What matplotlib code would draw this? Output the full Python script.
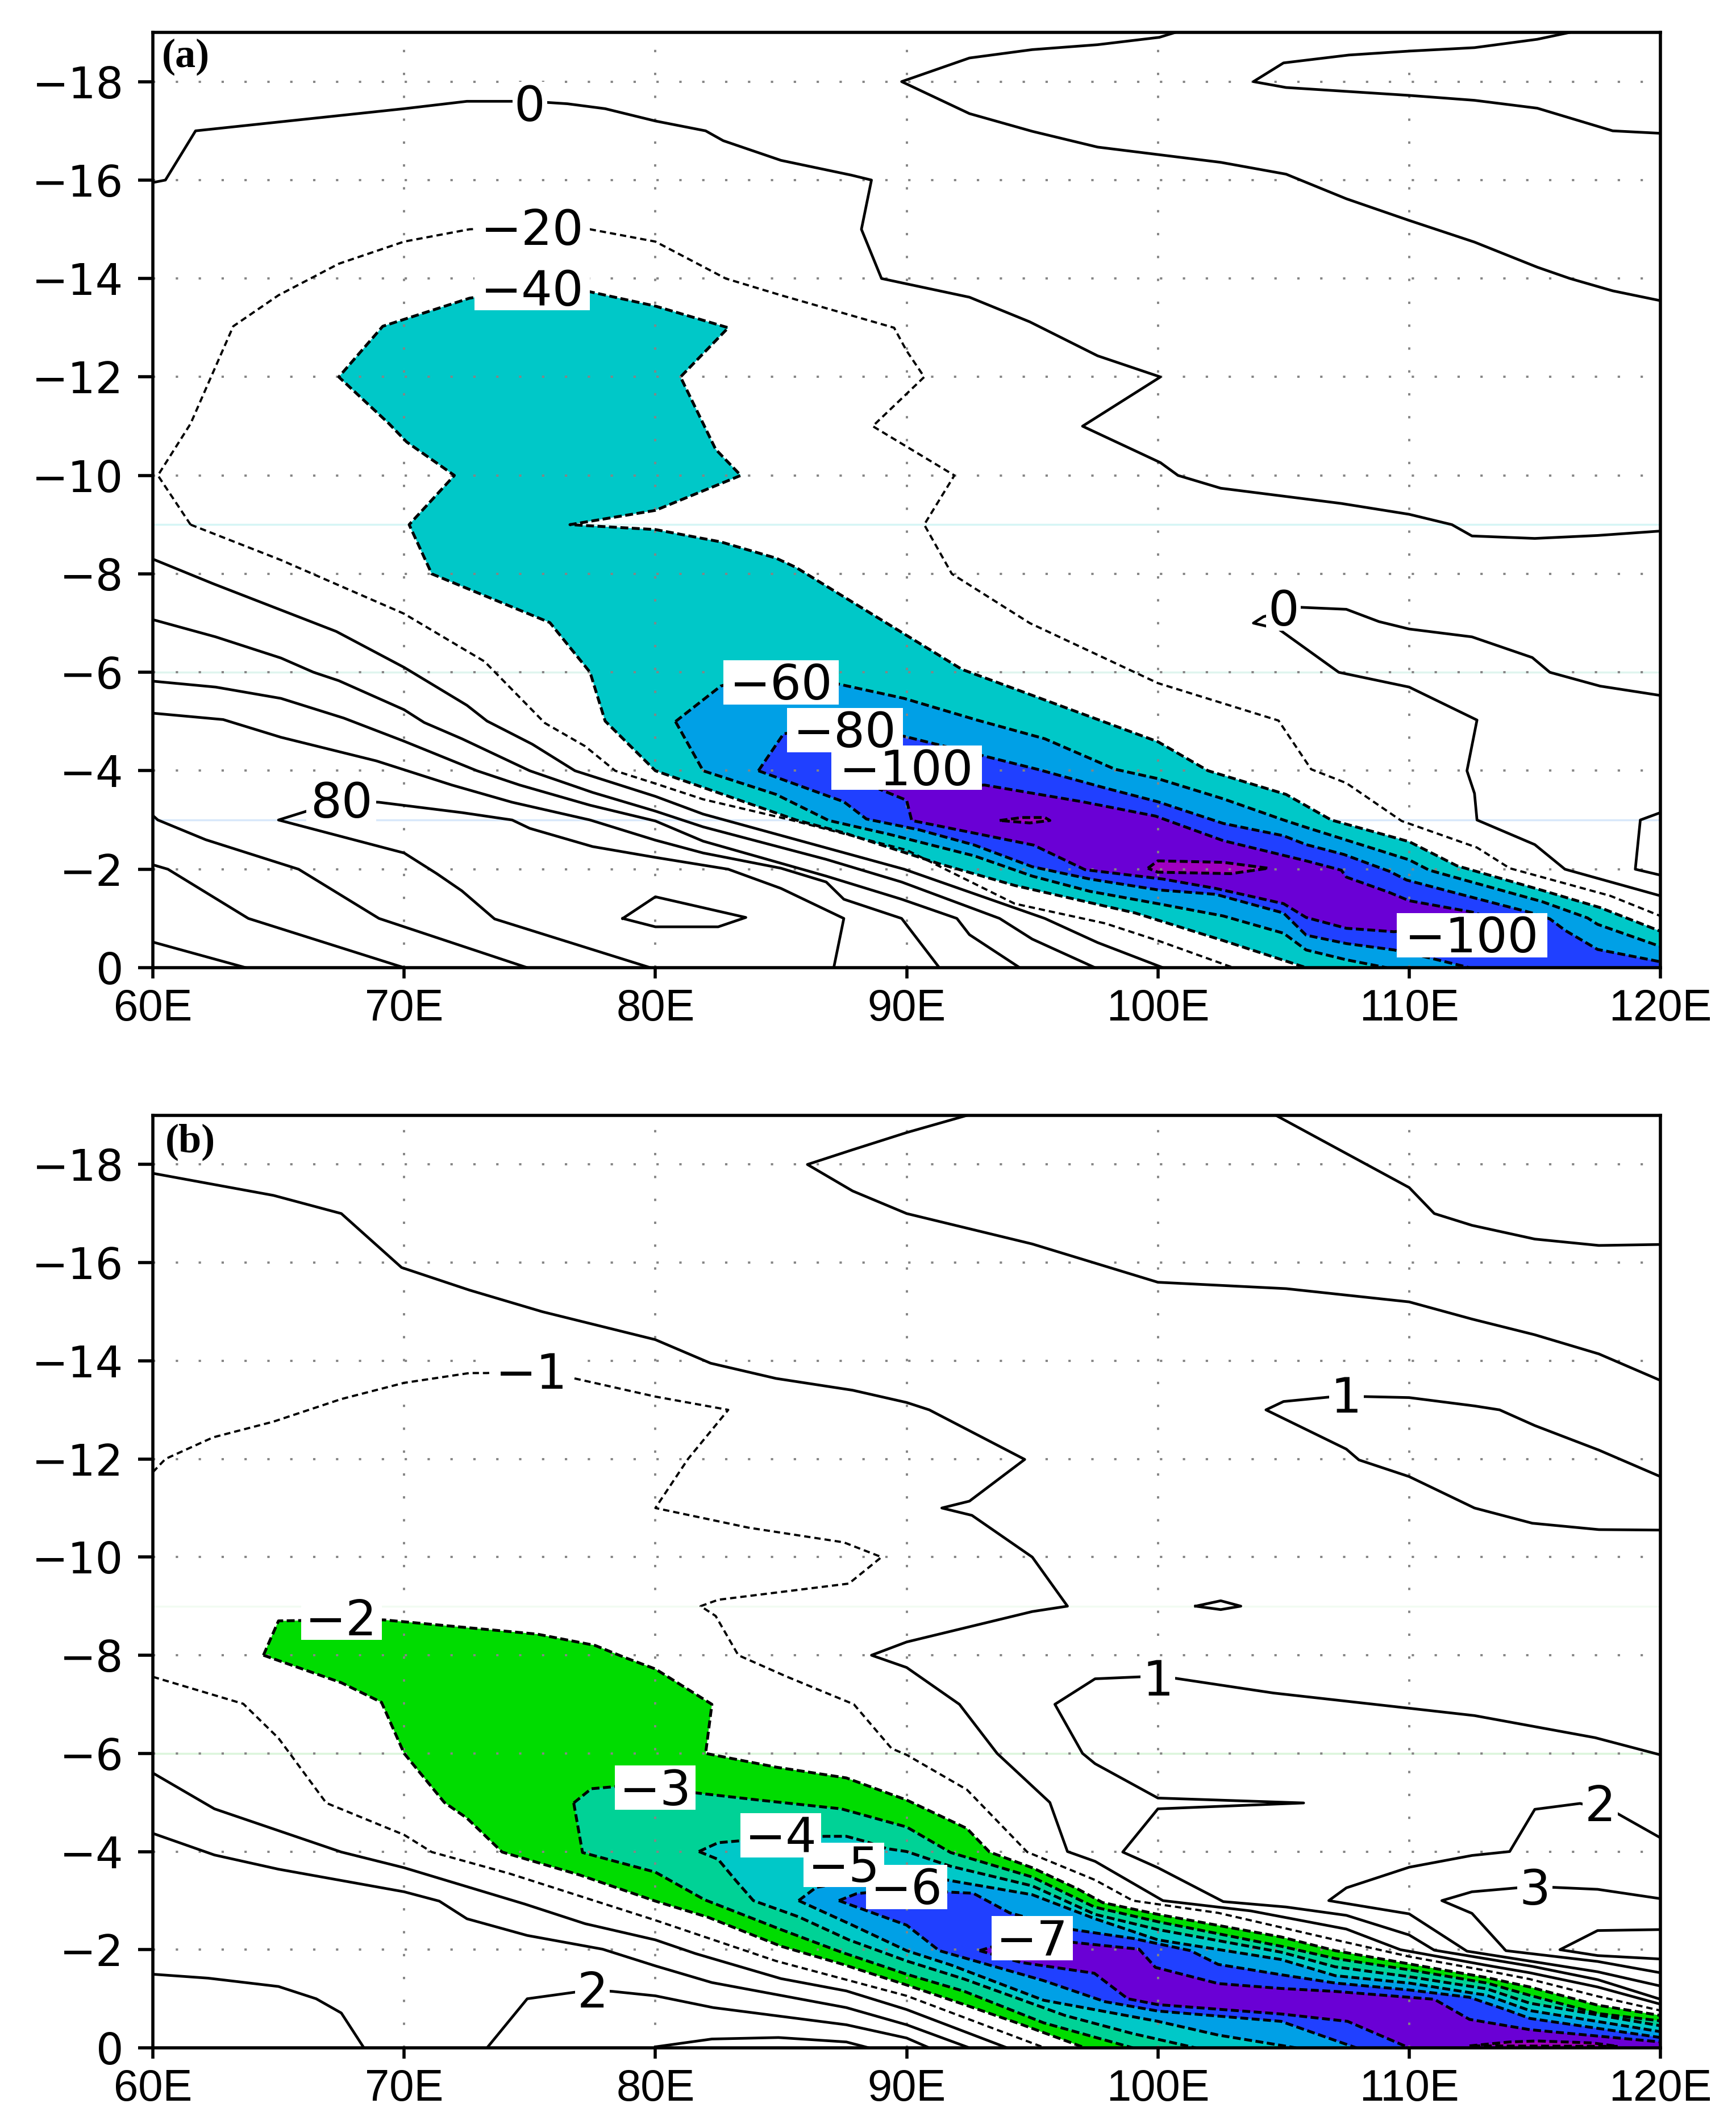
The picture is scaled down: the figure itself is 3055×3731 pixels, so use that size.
import matplotlib
matplotlib.use("Agg")
import matplotlib.pyplot as plt
from matplotlib.patches import Polygon, Rectangle

plt.rcParams['lines.scale_dashes'] = False

lon_ticks = [60, 70, 80, 90, 100, 110, 120]
lon_labels = ['60E', '70E', '80E', '90E', '100E', '110E', '120E']
lat_ticks = [-18, -16, -14, -12, -10, -8, -6, -4, -2, 0]

# colours of the shaded levels, outermost first
a_colors = ['#00C8C8', '#00A0E6', '#2040FF', '#6A00D5', '#A000C0']
b_colors = ['#00DC00', '#00D296', '#00C8C8', '#00A0E6', '#2040FF', '#6A00D5', '#A000C0']

# ---- panel a: contours as (lon, lat) ----
a_m40_left = [(75, -13.8), (72.6, -13.6), (69.15, -13.03), (67.4, -12), (69.4, -11.05), (70.1, -10.68), (72, -10),
              (70.2, -9), (71.1, -8), (75.8, -7.01), (77.4, -6), (78, -5.01), (80, -4), (85.6, -3), (87.5, -2.74),
              (91.3, -2.11), (94.3, -1.67), (96.7, -1.39), (99.1, -1.11), (102.6, -0.55), (105.9, 0)]
a_m40_right = [(75, -13.8), (77.4, -13.73), (80, -13.44), (82.9, -13), (81, -12), (82.4, -10.53), (83.4, -10),
               (80, -9.29), (76.6, -9), (80, -8.9), (82.6, -8.65), (84.8, -8.32), (85.6, -8.13), (92.2, -6.06),
               (100, -4.59), (102, -4), (105.1, -3.52), (106.9, -3), (110, -2.56), (111.9, -2.07), (115.3, -1.57),
               (117.6, -1.22), (120, -0.74)]
a_m60_upper = [(80.8, -5), (82.6, -5.72), (84.5, -6), (87.3, -5.76), (89.9, -5.47), (92.8, -5.03), (95.5, -4.65),
               (98.3, -4.03), (100, -3.84), (102.6, -3.43), (105, -3), (105.9, -2.85), (110, -2.19), (110.8, -1.98),
               (115.3, -1.34), (117.1, -1.01), (117.5, -0.88), (120, -0.43)]
a_m60_lower = [(80.8, -5), (81.9, -4), (84.8, -3.52), (86.9, -2.99), (89.3, -2.71), (92.7, -2.27), (95, -1.86),
               (97.3, -1.55), (100, -1.3), (102.6, -1.05), (105, -0.7), (105.9, -0.36), (107.5, -0.16), (109.1, 0)]
a_m80_upper = [(84.1, -4), (85.1, -4.75), (87, -4.9), (89.9, -4.7), (93, -4.31), (95.2, -4.03), (97.9, -3.65),
               (100, -3.37), (102.6, -2.93), (105, -2.68), (105.9, -2.5), (107.4, -2.3), (109.2, -1.96),
               (109.9, -1.78), (111.6, -1.55), (114.9, -1.11), (115.6, -0.99), (116.2, -0.76), (117.5, -0.37),
               (120, -0.12)]
a_m80_lower = [(84.1, -4), (87.5, -3.37), (88.4, -3.02), (90.5, -2.8), (92.7, -2.49), (95, -2.05), (97.3, -1.8),
               (100, -1.58), (102.3, -1.49), (105, -1.11), (105.9, -0.66), (107.5, -0.49), (109.4, -0.36),
               (110.8, -0.2), (112.4, 0)]
a_m100 = [(88.9, -3.63), (93.1, -3.71), (97, -3.37), (99.9, -3.08), (102.6, -2.58), (105.9, -2.17), (107.3, -1.98),
          (107.5, -1.84), (109.2, -1.53), (110, -1.36), (112.5, -1.13), (113.6, -0.95), (109.4, -0.73),
          (107.5, -0.8), (105.9, -1.02), (105, -1.3), (102.3, -1.61), (100.2, -1.8), (97.1, -1.99), (95.05, -2.49),
          (90.2, -2.99), (90, -3.4), (88.9, -3.63)]
a_m120_small = [(93.7, -2.99), (94.6, -3.05), (95.5, -3.05), (95.7, -2.99), (94.9, -2.94), (93.7, -2.99)]
a_m120_long = [(99.6, -2.02), (100, -2.17), (102.6, -2.14), (104.4, -2.02), (102.9, -1.91), (100, -1.94), (99.6, -2.02)]

a_m20 = [(61.5, -9), (60.2, -10), (61.5, -11.05), (63.2, -13.03), (65, -13.66), (67.4, -14.3), (70, -14.75),
         (72.6, -15), (75, -15.05), (77.4, -15), (80, -14.75), (82.8, -14), (85, -13.66), (87.8, -13.25),
         (89.5, -13), (90, -12.53), (90.7, -12), (88.65, -11), (91.9, -10), (90.7, -9), (91.8, -8), (94.9, -7),
         (100, -5.78), (104.8, -5.02), (106.1, -4.03), (107.5, -3.75), (109.7, -2.98), (112.7, -2.44), (114, -2.02),
         (118, -1.46), (120, -1.05)]
a_m20_low = [(61.5, -9), (65.1, -8.28), (70, -7.19), (73.2, -6.22), (75.6, -4.97), (77.2, -4.5), (78.4, -4),
             (80, -3.74), (81.9, -3.42), (85.4, -3), (90, -2.39), (94.3, -1.3), (97.9, -0.9), (100, -0.55), (103, 0)]

a_zero_main = [(60, -15.95), (60.5, -16), (61.7, -17), (70, -17.45), (72.5, -17.6), (75, -17.6), (76.5, -17.55),
               (78, -17.45), (80, -17.2), (82, -17), (82.7, -16.8), (85, -16.4), (87.8, -16.1), (88.6, -16),
               (88.2, -15), (89, -14), (92.5, -13.62), (94.9, -13.12), (97.6, -12.43), (100.1, -12), (97, -11),
               (100.1, -10.26), (100.8, -10), (102.5, -9.74), (107.3, -9.43), (110, -9.21), (111.7, -9),
               (112.5, -8.77), (115, -8.72), (117.5, -8.78), (120, -8.87)]
a_top_long = [(100.7, -19), (100.06, -18.9), (97.6, -18.75), (95, -18.65), (92.5, -18.48), (89.8, -18), (92.5, -17.35),
              (95, -16.99), (97.6, -16.67), (102.5, -16.36), (105.1, -16.12), (107.5, -15.62), (110, -15.18),
              (112.6, -14.74), (115.1, -14.23), (116.4, -14), (118.1, -13.75), (120, -13.55)]
a_top_right = [(116.4, -19), (115.1, -18.86), (112.6, -18.69), (110, -18.62), (107.6, -18.54), (105, -18.38),
               (103.8, -18), (105.1, -17.88), (110, -17.72), (112.6, -17.62), (115.1, -17.46), (118.1, -17),
               (120, -16.95)]
a_zero_inner = [(120, -5.53), (117.6, -5.72), (115.6, -6), (114.9, -6.3), (112.5, -6.72), (110, -6.88), (108.8, -7.03),
                (107.5, -7.28), (105.7, -7.32), (104.2, -7.13), (103.8, -7), (104.8, -6.88), (107.2, -6), (110, -5.7),
                (112.7, -5.03), (112.3, -4), (112.6, -3.54), (112.7, -3), (115, -2.5), (116.2, -2), (120, -1.46)]
a_right_box = [(120, -3.15), (119.2, -3), (119, -2), (120, -1.88)]
a_line1 = [(60, -8.3), (62.4, -7.8), (67.3, -6.83), (70, -6.1), (72.5, -5.33), (73.3, -5.01), (75.1, -4.54),
           (76.8, -4), (80, -3.48), (81.9, -3.12), (89.9, -2), (95.5, -1), (97.6, -0.51), (100.2, 0)]
a_line2 = [(60, -7.07), (62.5, -6.72), (65.1, -6.29), (66.4, -6), (67.4, -5.83), (70, -5.24), (70.8, -4.98),
           (72.3, -4.65), (75, -4), (77.5, -3.56), (80, -3.18), (81.9, -2.86), (86.8, -2.2), (89.8, -1.74),
           (93.7, -1), (95, -0.58), (97.5, 0)]
a_line3 = [(60, -5.82), (62.5, -5.7), (65.1, -5.47), (67.6, -5.07), (70, -4.6), (72.9, -4), (74.6, -3.71),
           (77.4, -3.3), (80, -2.98), (81.9, -2.57), (86.8, -1.86), (89.8, -1.39), (92, -1), (92.5, -0.67), (94.5, 0)]
a_line4 = [(60, -5.17), (62.8, -5.04), (65.1, -4.68), (68.9, -4.2), (71.9, -3.71), (74.3, -3.36), (77.4, -3),
           (80, -2.59), (81.9, -2.33), (85, -2.02), (86.8, -1.74), (87.5, -1.39), (89.8, -1), (91.3, 0)]
a_line80 = [(79.8, 0), (73.6, -0.99), (72.3, -1.56), (71.3, -1.91), (70, -2.33), (65, -3), (67.5, -3.4), (69, -3.36),
            (72.3, -3.15), (74.3, -3), (75, -2.83), (77.5, -2.46), (80, -2.24), (82.9, -2), (85, -1.61), (87.5, -1),
            (87.1, 0)]
a_line_b1 = [(60, -3.09), (60.2, -3), (62.1, -2.6), (65.8, -2), (69, -1), (74.9, 0)]
a_line_b2 = [(60, -2.09), (60.6, -2), (63.8, -1), (70, 0)]
a_line_b3 = [(60, -0.52), (63.7, 0)]
a_loop = [(78.7, -1), (80, -1.44), (83.6, -1.02), (82.5, -0.83), (80, -0.83), (78.7, -1)]

a_pale_lats = [-9, -6, -3]
a_labels = [('0', 75, -17.55), ('\u221220', 75.1, -15.04), ('\u221240', 75.1, -13.8), ('0', 105, -7.3), ('80', 67.5, -3.4),
            ('\u221260', 85, -5.8), ('\u221280', 87.55, -4.83), ('\u2212100', 90, -4.06), ('\u2212100', 112.5, -0.66)]

# ---- panel b ----
b_m2_upper = [(64.4, -8), (65, -8.7), (67.5, -8.72), (69.2, -8.72), (75.3, -8.43), (77.6, -8.2), (78.8, -7.95), (80, -7.72),
              (82.25, -7), (82, -6), (84.8, -5.72), (87.6, -5.5), (90, -5.05), (92.4, -4.47), (93.3, -3.99), (95, -3.67),
              (96.8, -3.24), (97.8, -2.96), (100, -2.72), (104.9, -2.26), (107.06, -1.98), (110, -1.71), (113.1, -1.43),
              (114.8, -1.24), (117.5, -0.87), (120, -0.66)]
b_m2_lower = [(64.4, -8), (67.5, -7.44), (69.1, -7.04), (70, -6), (71.6, -5), (72.5, -4.68), (73.9, -3.99), (77, -3.52),
              (80, -2.99), (82.1, -2.66), (85, -2.07), (87.4, -1.71), (90, -1.28), (92.3, -0.88), (94.55, -0.48), (97.1, 0)]
b_m3_upper = [(76.75, -4.99), (77.45, -5.28), (79, -5.35), (81.7, -5.19), (84.1, -5.05), (87.4, -4.87), (90, -4.5),
              (91.75, -3.98), (95, -3.48), (97.47, -2.87), (100, -2.57), (104.9, -2.07), (107.06, -1.82), (110, -1.59),
              (113.1, -1.32), (114.8, -1.07), (117.5, -0.7), (120, -0.55)]
b_m3_lower = [(76.75, -4.99), (77.1, -3.98), (80, -3.58), (81.95, -3.02), (85, -2.41), (87.4, -1.95), (90, -1.5),
              (92.3, -1.15), (95.45, -0.51), (99, 0)]
b_m4_upper = [(81.73, -4), (82.5, -4.18), (83.4, -4.22), (85, -4.3), (86.8, -4.31), (87.6, -4.31), (88.4, -4.2), (89.2, -4.06),
              (90, -4), (91.75, -3.7), (95, -3.3), (97.5, -2.72), (100, -2.41), (104.9, -1.95), (107.06, -1.65),
              (110, -1.45), (113.1, -1.2), (114.8, -0.91), (120, -0.45)]
b_m4_lower = [(81.73, -4), (82.5, -3.84), (83.2, -3.41), (83.9, -3), (85.7, -2.67), (87.7, -2.2), (90, -1.77), (92.3, -1.4),
              (96.3, -0.66), (99, -0.29), (101.5, 0)]
b_m5_upper = [(85.7, -3), (86.4, -3.27), (88.4, -3.45), (90.5, -3.55), (91.6, -3.42), (95, -3.12), (97.5, -2.63), (100, -2.2),
              (104.9, -1.8), (107.06, -1.47), (110, -1.32), (113.1, -1.07), (114.8, -0.76), (120, -0.33)]
b_m5_lower = [(85.7, -3), (87.8, -2.51), (90, -1.98), (91.75, -1.69), (95.45, -0.97), (100, -0.54), (102.4, -0.26), (105.5, 0)]
b_m6_upper = [(87.3, -3), (88, -3.14), (90, -3.25), (91.4, -3.18), (92.65, -3.15), (94.1, -2.75), (96.6, -2.41), (99, -2.23),
              (101.3, -1.98), (102.4, -1.7), (104.9, -1.49), (107.06, -1.32), (110, -1.18), (112.4, -1.03), (113.95, -0.76),
              (114.8, -0.6), (120, -0.21)]
b_m6_lower = [(87.3, -3), (90, -2.5), (91.3, -1.98), (95.45, -1.37), (97.9, -0.94), (100, -0.75), (104.9, -0.54), (107.06, -0.15),
              (107.9, 0)]
b_m7_upper = [(92.9, -1.98), (94, -2.15), (96.6, -2.15), (99.25, -2.01), (99.9, -1.64), (102.4, -1.31), (104.9, -1.21),
              (107.06, -1.15), (110, -1.03), (111, -0.99), (112.4, -0.58), (114.8, -0.37), (120, -0.12)]
b_m7_lower = [(92.9, -1.98), (94.55, -1.74), (97.47, -1.52), (98.8, -1), (100, -0.88), (104.9, -0.69), (107.55, -0.54), (110, 0)]
b_m8 = [(112.4, -0.04), (114, -0.12), (115.1, -0.14), (117.3, -0.1), (118.3, -0.03), (112.4, -0.04)]

b_m1_upper = [(60, -11.73), (60.5, -12), (62.4, -12.44), (64.8, -12.76), (67.5, -13.22), (70, -13.55), (72.6, -13.75), (73.3, -13.75),
              (75, -13.8), (76.7, -13.65), (80, -13.27), (82.9, -13), (81.3, -12), (80, -11), (83.7, -10.6), (87.5, -10.3),
              (89, -10), (87.7, -9.46), (82.5, -9.13), (81.8, -9), (82.4, -8.8), (83.3, -8), (85.2, -7.57), (87.9, -7),
              (89.4, -6.1), (90, -5.97), (92.4, -5.26), (94.8, -3.99), (97.5, -3.42), (99, -3), (102.4, -2.75), (107.06, -2.2),
              (110, -1.86), (113.1, -1.57), (114.8, -1.4), (117.5, -1.05), (120, -0.76)]
b_m1_lower = [(60, -7.56), (63.6, -7.01), (65, -6.31), (66.9, -4.99), (70, -4.34), (71.1, -3.99), (74.2, -3.55), (80, -2.6),
              (84.8, -1.77), (90, -1.06), (95.5, 0)]

b_left_top = [(60, -17.82), (64.8, -17.37), (67.5, -17), (69.9, -15.9), (72.6, -15.44), (75.5, -15), (80, -14.43), (82.2, -13.95),
              (84.8, -13.64), (87.85, -13.4), (90, -13.15), (90.9, -13), (94.7, -11.99), (92.5, -11.14), (91.4, -11), (92.6, -10.85),
              (95, -10), (96.4, -9), (95, -8.89), (90, -8.27), (88.6, -8), (90, -7.75), (92.1, -7), (93.6, -6), (95.7, -5),
              (96.4, -4), (97.5, -3.8), (100.2, -3), (103.7, -2.79), (107.5, -2.42), (109.65, -2), (113.1, -1.68), (114.8, -1.53),
              (117.5, -1.24), (120, -0.89)]
b_top_mid = [(92.4, -19), (90, -18.65), (87.85, -18.3), (86.05, -18), (87.85, -17.46), (90, -17), (95, -16.38), (100, -15.6),
             (105.1, -15.47), (110, -15.2), (112.5, -14.85), (115, -14.53), (117.55, -14.14), (120, -13.6)]
b_top_right = [(104.7, -19), (110, -17.53), (111, -17), (112.5, -16.76), (115, -16.48), (117.55, -16.35), (120, -16.37)]
b_loop_one = [(120, -11.64), (117.55, -12.18), (115, -12.68), (113.6, -13), (112.6, -13.08), (110, -13.25), (108.25, -13.27),
              (106.8, -13.26), (105, -13.17), (104.3, -13), (107.5, -12.2), (108, -11.98), (110, -11.64), (112.6, -11),
              (114.9, -10.69), (117.55, -10.56), (120, -10.55)]
b_diamond = [(101.5, -9), (102.5, -9.11), (103.3, -9), (102.5, -8.93), (101.5, -9)]
b_one_mid = [(120, -5.97), (117.4, -6.32), (112.6, -6.77), (110, -6.92), (104.6, -7.23), (100.7, -7.53), (99.3, -7.56), (97.5, -7.52),
             (95.9, -7), (97, -6), (97.5, -5.79), (100, -5.09), (105.8, -4.99), (100, -4.87), (98.6, -3.99), (100, -3.67),
             (102.6, -2.98), (105.1, -2.87), (107.5, -2.7), (110, -2.3), (111, -1.99), (114.9, -1.66), (117.5, -1.39), (120, -0.99)]
b_two_right = [(120, -4.28), (118.2, -4.8), (116.8, -4.98), (115, -4.86), (114, -4), (112.5, -3.92), (110, -3.68), (107.5, -3.26),
               (106.8, -3), (110, -2.73), (112.3, -1.97), (114.9, -1.76), (117.5, -1.55), (120, -1.26)]
b_three = [(120, -3.04), (117.5, -3.23), (115.75, -3.27), (114.3, -3.26), (112.5, -3.18), (111.3, -3), (112.5, -2.74), (113.85, -1.98),
           (117.5, -1.76), (120, -1.53)]
b_right_box = [(120, -2.41), (117.5, -2.39), (116, -2), (117.5, -1.88), (120, -1.81)]
b_low_1 = [(60, -5.6), (62.45, -4.87), (67.5, -3.99), (70, -3.67), (74.8, -2.93), (77.2, -2.53), (80, -2.2), (81.6, -1.92), (85, -1.41),
           (87.6, -1.16), (90, -0.78), (94, 0)]
b_low_2 = [(60, -4.37), (62.45, -3.93), (65, -3.64), (70, -3.18), (71.4, -2.99), (72.5, -2.63), (74.9, -2.29), (77.9, -2.01), (80, -1.67),
           (82.25, -1.33), (87.6, -0.82), (90, -0.47), (92.5, 0)]
b_low_3 = [(73.3, 0), (74.9, -1), (77.45, -1.18), (78.3, -1.15), (80, -1.06), (82.3, -0.82), (87.6, -0.47), (90, -0.2), (90.9, 0)]
b_low_4 = [(60, -1.5), (62.2, -1.42), (65, -1.25), (66.5, -1), (67.5, -0.71), (68.4, 0)]
b_bump = [(80, -0.02), (82.25, -0.18), (84.9, -0.21), (87.6, -0.12), (88.5, 0)]

b_pale_lats = [-9, -6]
b_labels = [('\u22122', 67.5, -8.76), ('\u22121', 75.07, -13.79), ('1', 107.5, -13.3), ('1', 100, -7.53), ('\u22123', 80, -5.3),
            ('\u22124', 85, -4.33), ('\u22125', 87.5, -3.73), ('\u22126', 90, -3.28), ('\u22127', 95, -2.24), ('2', 117.6, -4.97),
            ('3', 115, -3.27), ('2', 77.5, -1.18)]


def line(ax, pts, dashed=False, thin=False):
    xs, ys = zip(*pts)
    if dashed:
        if thin:
            ax.plot(xs, ys, color='black', lw=2.8, linestyle=(0, (8, 5)), zorder=3)
        else:
            ax.plot(xs, ys, color='black', lw=3.6, linestyle=(0, (10, 4.5)), zorder=3)
    else:
        ax.plot(xs, ys, color='black', lw=3.4, zorder=3)


def band(ax, upper, lower, color):
    # upper runs out to the right edge, lower runs out to the bottom edge
    poly = list(upper) + [(120, 0)] + list(reversed(lower))
    ax.add_patch(Polygon(poly, closed=True, facecolor=color, edgecolor='none', zorder=1))
    line(ax, upper, dashed=True)
    line(ax, lower, dashed=True)


def island(ax, pts, color):
    ax.add_patch(Polygon(pts, closed=True, facecolor=color, edgecolor='none', zorder=1))
    line(ax, pts, dashed=True)


def setup(ax, pale_lats, pale_colors):
    ax.set_xlim(60, 120)
    ax.set_ylim(0, -19)
    ax.set_xticks(lon_ticks)
    ax.set_xticklabels(lon_labels)
    ax.set_yticks(lat_ticks)
    ax.tick_params(axis='x', length=14, width=4, labelsize=56, pad=12)
    ax.tick_params(axis='y', length=19, width=4, labelsize=55, pad=18)
    # DejaVu has the long minus of the y labels, Liberation the narrow x labels
    for lab in ax.get_xticklabels():
        lab.set_family('Liberation Sans')
    for s in ax.spines.values():
        s.set_linewidth(4)
    ax.grid(True, color='#858585', lw=2.8, linestyle=(0, (3, 26)))
    for lat, c in zip(pale_lats, pale_colors):
        ax.axhline(lat, color=c, lw=2.5, zorder=0.5)


def add_labels(ax, labels):
    # white boxes go under every number, so a neighbour's box never cuts a digit
    renderer = ax.figure.canvas.get_renderer()
    for txt, x, y in labels:
        px, py = ax.transData.transform((x, y))
        t = ax.annotate(txt, (x, y), xytext=(0, -22), textcoords='offset points', fontsize=62, ha='center',
                        va='baseline', zorder=5)
        w = t.get_window_extent(renderer).width * 1.12
        inv = ax.transData.inverted()
        x0, y0 = inv.transform((px - w / 2, py - 39))
        x1, y1 = inv.transform((px + w / 2, py + 39))
        ax.add_patch(Rectangle((x0, y0), x1 - x0, y1 - y0, facecolor='white', edgecolor='none', zorder=4))


W, H = 3055.0, 3731.0
fig = plt.figure(figsize=(W / 100, H / 100), dpi=100)

ax = fig.add_axes([269 / W, 1 - 1703 / H, (2922 - 269) / W, (1703 - 57) / H])
setup(ax, a_pale_lats, ['#d6f5f5', '#dff5ee', '#d8e8fa'])
band(ax, a_m40_right, a_m40_left, a_colors[0])
band(ax, a_m60_upper, a_m60_lower, a_colors[1])
band(ax, a_m80_upper, a_m80_lower, a_colors[2])
island(ax, a_m100, a_colors[3])
island(ax, a_m120_small, a_colors[4])
island(ax, a_m120_long, a_colors[4])
line(ax, a_m20, dashed=True, thin=True)
line(ax, a_m20_low, dashed=True, thin=True)
for pts in [a_zero_main, a_top_long, a_top_right, a_zero_inner, a_right_box, a_line1, a_line2, a_line3, a_line4,
            a_line80, a_line_b1, a_line_b2, a_line_b3, a_loop]:
    line(ax, pts)
add_labels(ax, a_labels)
ax.text(61.3, -18.5, '(a)', fontsize=52, family='Liberation Serif', weight='bold', ha='center', va='center', zorder=5)

ax = fig.add_axes([269 / W, 1 - 3604 / H, (2922 - 269) / W, (3604 - 1963) / H])
setup(ax, b_pale_lats, ['#f2fbf2', '#dcf5dc'])
band(ax, b_m2_upper, b_m2_lower, b_colors[0])
band(ax, b_m3_upper, b_m3_lower, b_colors[1])
band(ax, b_m4_upper, b_m4_lower, b_colors[2])
band(ax, b_m5_upper, b_m5_lower, b_colors[3])
band(ax, b_m6_upper, b_m6_lower, b_colors[4])
band(ax, b_m7_upper, b_m7_lower, b_colors[5])
island(ax, b_m8, b_colors[6])
line(ax, b_m1_upper, dashed=True, thin=True)
line(ax, b_m1_lower, dashed=True, thin=True)
for pts in [b_left_top, b_top_mid, b_top_right, b_loop_one, b_diamond, b_one_mid, b_two_right, b_three, b_right_box,
            b_low_1, b_low_2, b_low_3, b_low_4, b_bump]:
    line(ax, pts)
add_labels(ax, b_labels)
ax.text(61.5, -18.45, '(b)', fontsize=52, family='Liberation Serif', weight='bold', ha='center', va='center', zorder=5)

fig.savefig('out.png', dpi=100)
